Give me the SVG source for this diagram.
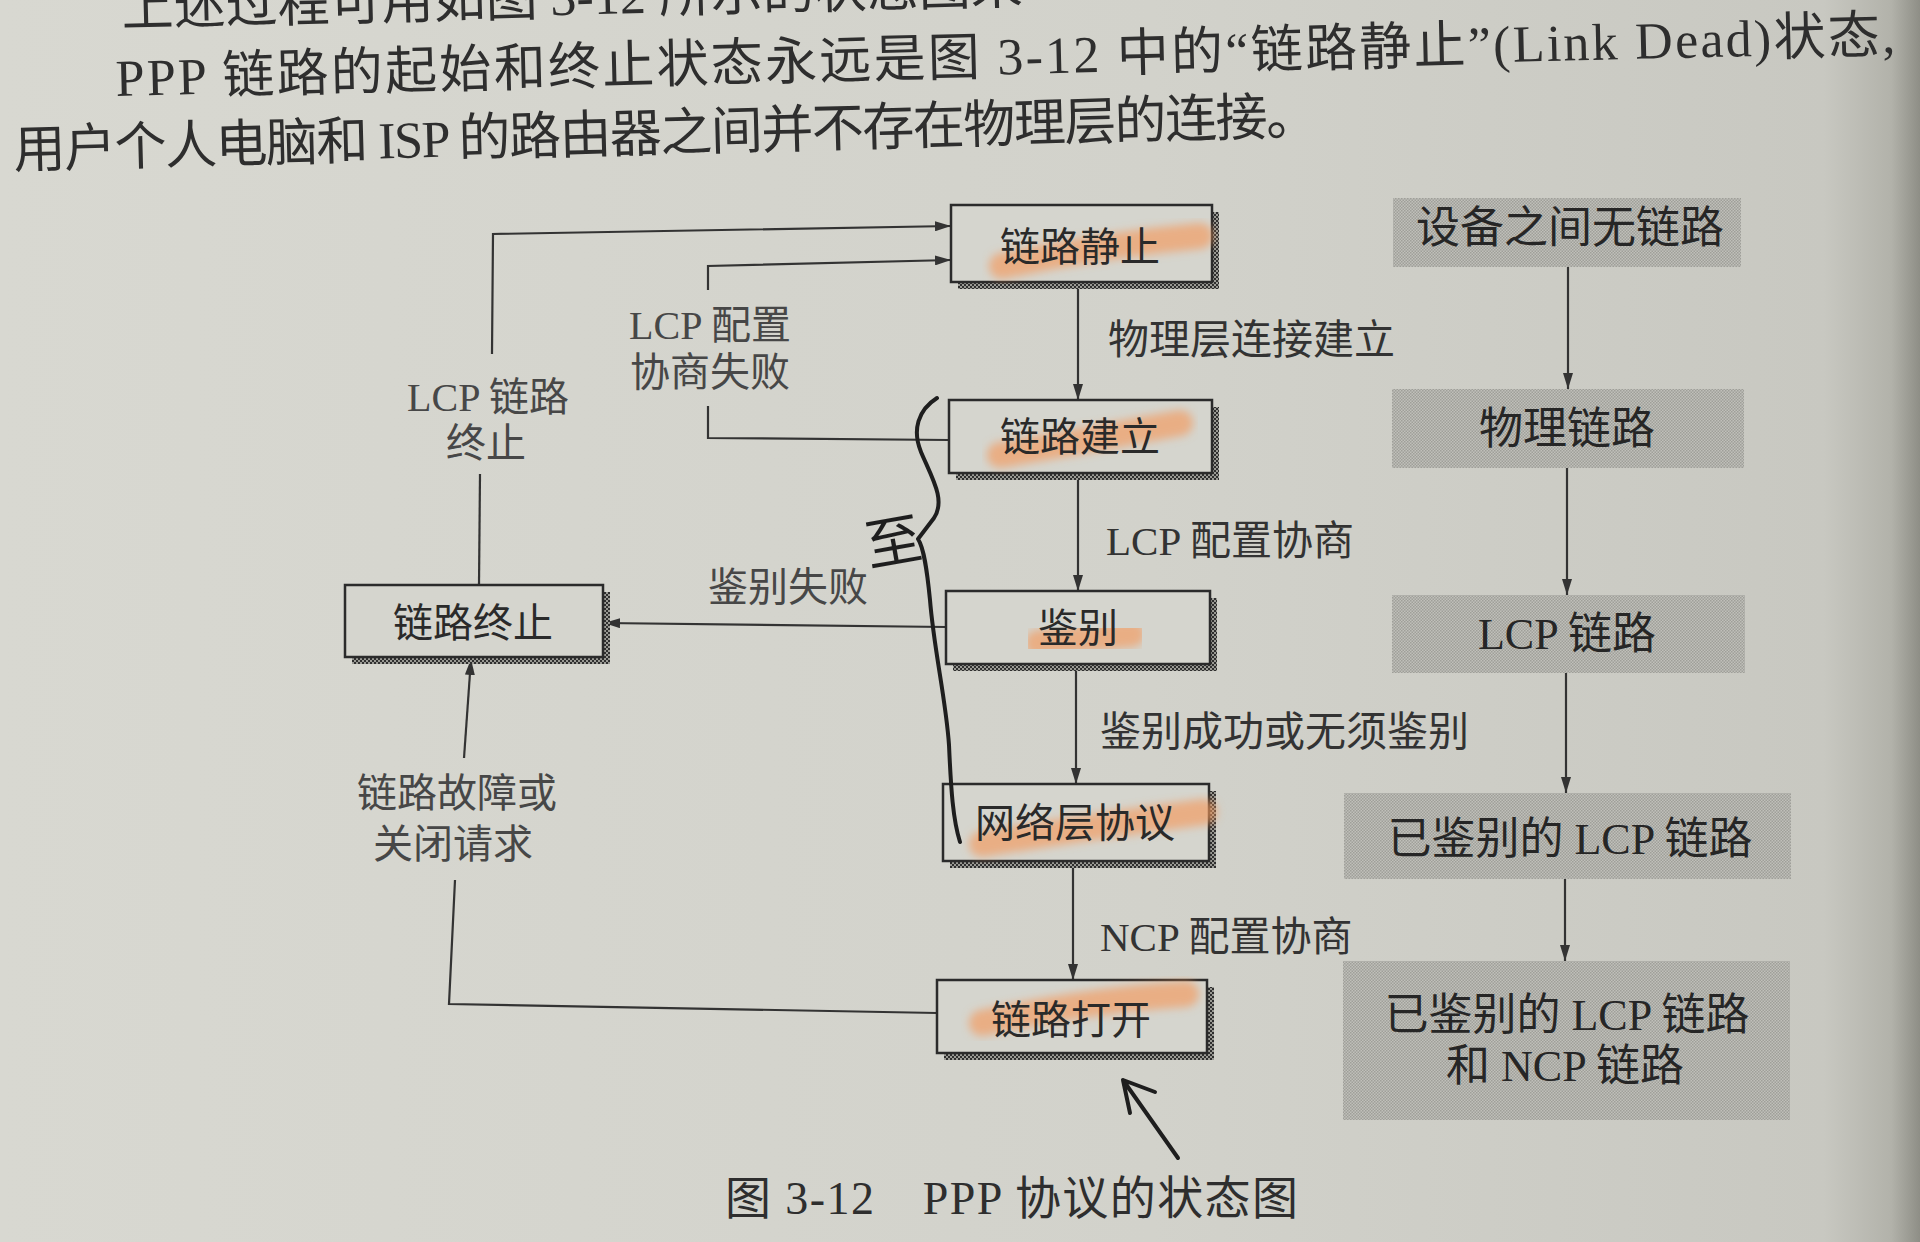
<svg xmlns="http://www.w3.org/2000/svg" width="1920" height="1242" viewBox="0 0 1920 1242">
<defs>
  <linearGradient id="bg" x1="0" y1="0" x2="1" y2="0">
    <stop offset="0" stop-color="#d8d8d1"/>
    <stop offset="0.6" stop-color="#d2d2cb"/>
    <stop offset="0.95" stop-color="#c8c8c1"/>
    <stop offset="0.985" stop-color="#b2b2aa"/>
    <stop offset="1" stop-color="#8e8e86"/>
  </linearGradient>
  <pattern id="chk" width="4" height="4" patternUnits="userSpaceOnUse">
    <rect width="4" height="4" fill="#9a9a94"/>
    <rect width="2" height="2" fill="#2f2f2f"/>
    <rect x="2" y="2" width="2" height="2" fill="#2f2f2f"/>
  </pattern>
  <pattern id="dot" width="3" height="3" patternUnits="userSpaceOnUse">
    <rect width="3" height="3" fill="#c0c0ba"/>
    <rect width="1.5" height="1.5" fill="#9f9f99"/>
    <rect x="1.5" y="1.5" width="1.5" height="1.5" fill="#9f9f99"/>
  </pattern>
  <marker id="ah" viewBox="0 0 16 10" refX="16" refY="5" markerWidth="16" markerHeight="10" markerUnits="userSpaceOnUse" orient="auto">
    <path d="M0,0 L16,5 L0,10 Z" fill="#333"/>
  </marker>
  <filter id="soft" x="-10%" y="-60%" width="120%" height="220%">
    <feGaussianBlur stdDeviation="4"/>
  </filter>
  <style>
    .cjk { font-family: "Liberation Serif", "Noto Sans CJK SC", serif; }
    .body { font-size: 52px; fill: #2e2e2e; }
    .box { fill: #d5d5ce; stroke: #2b2b2b; stroke-width: 2.5; }
    .shadow { fill: url(#chk); }
    .gray { fill: url(#dot); }
    .nt { font-size: 40px; fill: #2a2a2a; text-anchor: middle; }
    .rt { font-size: 44px; fill: #262626; text-anchor: middle; }
    .lbl { font-size: 41px; fill: #333; }
    .lblc { font-size: 40px; fill: #474747; text-anchor: middle; }
    .wire { stroke: #333; stroke-width: 2.2; fill: none; }
    .hl { stroke: #f49a5c; stroke-opacity: 0.65; stroke-width: 26; stroke-linecap: round; fill: none; filter: url(#soft); }
    .ink { stroke: #1e1e1e; stroke-width: 4; fill: none; stroke-linecap: round; stroke-linejoin: round; }
    .cap { font-size: 46px; fill: #2e2e2e; }
  </style>
</defs>

<rect width="1920" height="1242" fill="url(#bg)"/>

<!-- body text -->
<g id="bodytext" class="cjk body">
  <text x="122" y="26" transform="rotate(-1.45 122 26)">上述过程可用如图 3-12 所示的状态图来</text>
  <text x="116" y="96" transform="rotate(-1.4 116 96)" textLength="1780" lengthAdjust="spacing">PPP 链路的起始和终止状态永远是图 3-12 中的“链路静止”(Link Dead)状态,</text>
  <text x="14" y="168" transform="rotate(-1.5 14 168)" textLength="1305" lengthAdjust="spacing">用户个人电脑和 ISP 的路由器之间并不存在物理层的连接。</text>
</g>

<!-- connectors -->
<g id="connectors">
  <path class="wire" d="M1078,282 L1078,400" marker-end="url(#ah)"/>
  <path class="wire" d="M1078,473 L1078,591" marker-end="url(#ah)"/>
  <path class="wire" d="M1076,664 L1076,784" marker-end="url(#ah)"/>
  <path class="wire" d="M1073,861 L1073,980" marker-end="url(#ah)"/>
  <!-- 鉴别失败 -->
  <path class="wire" d="M946,627 L604,623" marker-end="url(#ah)"/>
  <!-- LCP 配置协商失败 -->
  <path class="wire" d="M949,440 L708,438 L708,406"/>
  <path class="wire" d="M708,290 L708,266 L951,260" marker-end="url(#ah)"/>
  <!-- LCP 链路终止 -->
  <path class="wire" d="M479,585 L480,474"/>
  <path class="wire" d="M492,354 L493,234 L951,226" marker-end="url(#ah)"/>
  <!-- 链路故障或关闭请求 -->
  <path class="wire" d="M937,1013 L449,1004 L455,880"/>
  <path class="wire" d="M464,758 L471,659" marker-end="url(#ah)"/>
  <!-- right column -->
  <path class="wire" d="M1568,267 L1568,389" marker-end="url(#ah)"/>
  <path class="wire" d="M1567,468 L1567,595" marker-end="url(#ah)"/>
  <path class="wire" d="M1566,673 L1566,793" marker-end="url(#ah)"/>
  <path class="wire" d="M1565,879 L1565,961" marker-end="url(#ah)"/>
</g>

<!-- connector labels -->
<g id="labels" class="cjk">
  <text class="lbl" x="1108" y="354">物理层连接建立</text>
  <text class="lbl" x="1106" y="555">LCP 配置协商</text>
  <text class="lbl" x="1100" y="746">鉴别成功或无须鉴别</text>
  <text class="lbl" x="1100" y="951">NCP 配置协商</text>
  <text class="lblc" x="788" y="601">鉴别失败</text>
  <text class="lblc" x="710" y="339">LCP 配置</text>
  <text class="lblc" x="710" y="386">协商失败</text>
  <text class="lblc" x="488" y="411">LCP 链路</text>
  <text class="lblc" x="486" y="457">终止</text>
  <text class="lblc" x="457" y="807">链路故障或</text>
  <text class="lblc" x="453" y="858">关闭请求</text>
</g>

<!-- state nodes -->
<g id="n-dead">
  <rect class="shadow" x="958" y="212" width="261" height="77"/>
  <rect class="box" x="951" y="205" width="261" height="77"/>
  <path class="hl" d="M1002,266 Q1100,245 1200,236"/>
  <text class="cjk nt" x="1080" y="261">链路静止</text>
</g>
<g id="n-establish">
  <rect class="shadow" x="956" y="407" width="263" height="73"/>
  <rect class="box" x="949" y="400" width="263" height="73"/>
  <path class="hl" d="M1000,455 Q1090,440 1180,423"/>
  <text class="cjk nt" x="1080" y="451">链路建立</text>
</g>
<g id="n-auth">
  <rect class="shadow" x="953" y="598" width="264" height="73"/>
  <rect class="box" x="946" y="591" width="264" height="73"/>
  <path class="hl" d="M1038,643 L1132,634"/>
  <text class="cjk nt" x="1078" y="642">鉴别</text>
</g>
<g id="n-network">
  <rect class="shadow" x="950" y="791" width="266" height="77"/>
  <rect class="box" x="943" y="784" width="266" height="77"/>
  <path class="hl" d="M982,844 Q1100,825 1204,812"/>
  <text class="cjk nt" x="1075" y="837">网络层协议</text>
</g>
<g id="n-open">
  <rect class="shadow" x="944" y="987" width="270" height="73"/>
  <rect class="box" x="937" y="980" width="270" height="73"/>
  <path class="hl" d="M982,1023 Q1090,1000 1186,994"/>
  <text class="cjk nt" x="1071" y="1034">链路打开</text>
</g>
<g id="n-terminate">
  <rect class="shadow" x="352" y="592" width="258" height="72"/>
  <rect class="box" x="345" y="585" width="258" height="72"/>
  <text class="cjk nt" x="473" y="637">链路终止</text>
</g>

<!-- right column: link phases -->
<g id="p-nolink">
  <rect class="gray" x="1393" y="198" width="348" height="69"/>
  <text class="cjk rt" x="1570" y="243">设备之间无链路</text>
</g>
<g id="p-physical">
  <rect class="gray" x="1392" y="389" width="352" height="79"/>
  <text class="cjk rt" x="1567" y="444">物理链路</text>
</g>
<g id="p-lcp">
  <rect class="gray" x="1392" y="595" width="353" height="78"/>
  <text class="cjk rt" x="1567" y="649">LCP 链路</text>
</g>
<g id="p-authlcp">
  <rect class="gray" x="1344" y="793" width="447" height="86"/>
  <text class="cjk rt" x="1570" y="854">已鉴别的 LCP 链路</text>
</g>
<g id="p-authncp">
  <rect class="gray" x="1343" y="961" width="447" height="159"/>
  <text class="cjk rt" x="1567" y="1030">已鉴别的 LCP 链路</text>
  <text class="cjk rt" x="1565" y="1081">和 NCP 链路</text>
</g>

<!-- handwritten annotations -->
<g id="handwriting">
  <path class="ink" d="M937,398 C918,410 912,430 921,452 C932,478 946,500 934,518 L918,539 C924,548 927,570 930,600 C934,650 946,700 949,745 C951,790 953,820 960,842"/>
  <text x="893" y="562" transform="rotate(-10 893 540)" font-family="Noto Sans CJK SC, sans-serif" font-size="56" fill="#1e1e1e" text-anchor="middle">至</text>
  <path class="ink" d="M1178,1158 L1123,1080 M1123,1080 L1155,1092 M1123,1080 L1130,1113"/>
</g>

<!-- caption -->
<text id="caption" class="cjk cap" x="725" y="1214" textLength="573" lengthAdjust="spacing">图 3-12　PPP 协议的状态图</text>
</svg>
